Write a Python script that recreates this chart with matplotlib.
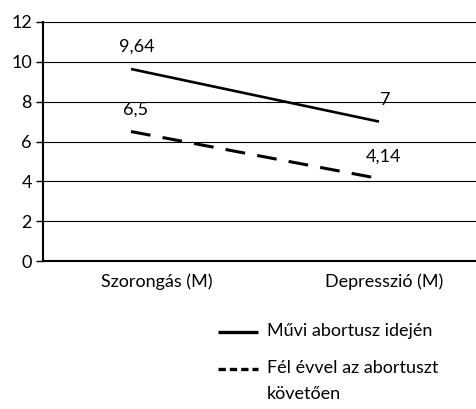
import matplotlib.pyplot as plt
from matplotlib.lines import Line2D

categories = ["Szorongás (M)", "Depresszió (M)"]
muvi = [9.64, 7]
fel_ev = [6.5, 4.14]
muvi_labels = ["9,64", "7"]
fel_ev_labels = ["6,5", "4,14"]
series_names = ["Művi abortusz idején", "Fél évvel az abortuszt\nkövetően"]

plt.rcParams['font.family'] = ['Lato', 'DejaVu Sans']
FS = 13

W, H = 476, 409
fig = plt.figure(figsize=(W / 100, H / 100), dpi=100)
ax = fig.add_axes([43 / W, 1 - 261 / H, 1 - 43 / W, (261 - 22) / H])

x = list(range(len(categories)))
l1, = ax.plot(x, muvi, color='black', lw=1.9, solid_capstyle='butt')
l2, = ax.plot(x, fel_ev, color='black', lw=2.2, dashes=(6.5, 4.0), dash_capstyle='butt')

for xi, v, s in zip(x, muvi, muvi_labels):
    ax.annotate(s, (xi, v), xytext=(6, 22), textcoords='offset pixels',
                ha='center', va='center', fontsize=FS)
for xi, v, s in zip(x, fel_ev, fel_ev_labels):
    ax.annotate(s, (xi, v), xytext=(5, 22), textcoords='offset pixels',
                ha='center', va='center', fontsize=FS)

ax.set_xlim(-88 / 248, (W - 131) / 248)
ax.set_ylim(0, 12)
ax.set_yticks(range(0, 13, 2))
ax.tick_params(axis='y', length=5, width=1, labelsize=FS, pad=3)
ax.set_xticks([0.105, 1.02])
ax.set_xticklabels(categories, fontsize=FS)
ax.tick_params(axis='x', length=0, pad=9)
ax.grid(axis='y', color='black', lw=0.8)
ax.set_axisbelow(True)
for s in ['top', 'right']:
    ax.spines[s].set_visible(False)
ax.spines['left'].set_linewidth(1.5)
ax.spines['bottom'].set_linewidth(1.5)

# legend drawn by hand so the dashed sample sits on the first text line
legend_rows = [(l1, 332), (l2, 369)]
for (line, ypx), name in zip(legend_rows, series_names):
    yf = 1 - ypx / H
    sample = Line2D([218 / W, 258 / W], [yf, yf], transform=fig.transFigure,
                    color='black', lw=2.4, solid_capstyle='butt')
    if line is l2:
        sample.set_dashes((2.2, 1.2))
    fig.add_artist(sample)
    fig.text(267 / W, 1 - (ypx - 9) / H, name, fontsize=FS, ha='left', va='top',
             linespacing=1.8, transform=fig.transFigure)

fig.savefig('out.png')
